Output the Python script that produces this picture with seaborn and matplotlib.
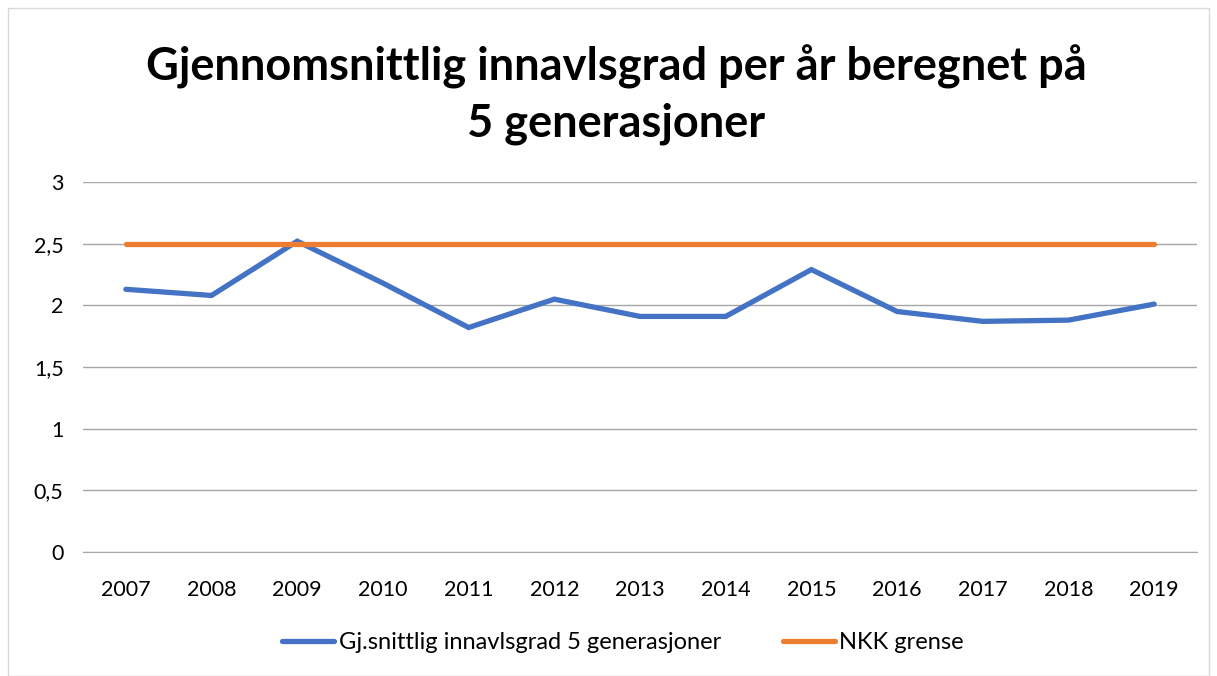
import matplotlib
matplotlib.use("Agg")
import matplotlib.pyplot as plt
import seaborn as sns
import pandas as pd

years = ["2007", "2008", "2009", "2010", "2011", "2012", "2013",
         "2014", "2015", "2016", "2017", "2018", "2019"]
innavl = [2.13, 2.08, 2.52, 2.18, 1.82, 2.05, 1.91, 1.91, 2.29, 1.95, 1.87, 1.88, 2.01]
nkk_grense = [2.5] * len(years)
serie_navn = ["Gj.snittlig innavlsgrad 5 generasjoner", "NKK grense"]
farger = ["#4472C4", "#ED7D31"]

df = pd.DataFrame({
    "år": years * 2,
    "verdi": innavl + nkk_grense,
    "serie": [serie_navn[0]] * len(years) + [serie_navn[1]] * len(years),
})

sns.set_style("white")
plt.rcParams["font.family"] = ["Lato", "DejaVu Sans"]
plt.rcParams["text.color"] = "black"

fig = plt.figure(figsize=(12.17, 6.76), dpi=100)
ax = fig.add_axes([83 / 1217, 1 - 552 / 676, (1197 - 83) / 1217, (552 - 182) / 676])

sns.lineplot(data=df, x="år", y="verdi", hue="serie", palette=farger,
             linewidth=3.8, ax=ax, sort=False, legend=True)
for ln in ax.lines:
    ln.set_solid_capstyle("round")
    ln.set_solid_joinstyle("miter")

ax.set_xlim(-0.5, len(years) - 0.5)
ax.set_ylim(0, 3)
ax.set_yticks([0, 0.5, 1, 1.5, 2, 2.5, 3])
ax.set_yticklabels(["0", "0,5", "1", "1,5", "2", "2,5", "3"])
ax.yaxis.grid(True, color="#a6a6a6", linewidth=1)
ax.set_axisbelow(True)
for s in ["top", "right", "left"]:
    ax.spines[s].set_visible(False)
ax.spines["bottom"].set_color("#a6a6a6")
ax.tick_params(axis="both", length=0, labelsize=15.5, colors="black")
ax.tick_params(axis="x", pad=20)
ax.tick_params(axis="y", pad=14)
ax.set_xlabel("")
ax.set_ylabel("")

ax.legend(loc="center", bbox_to_anchor=(0.485, -0.245), ncol=2, frameon=False,
          fontsize=17, handlelength=2.2, columnspacing=2.6, handletextpad=0.2,
          labelcolor="black")

fig.text(616 / 1217, 1 - 95 / 676, "Gjennomsnittlig innavlsgrad per år beregnet på\n5 generasjoner",
         ha="center", va="center", fontsize=32.5, fontweight="bold", linespacing=1.4,
         color="black")

fig.patches.append(plt.Rectangle((8 / 1217, 0), 1 - 16 / 1217, 1 - 8 / 676,
                                 transform=fig.transFigure, fill=False,
                                 edgecolor="#d9d9d9", linewidth=1))

fig.savefig("out.png", dpi=100)
